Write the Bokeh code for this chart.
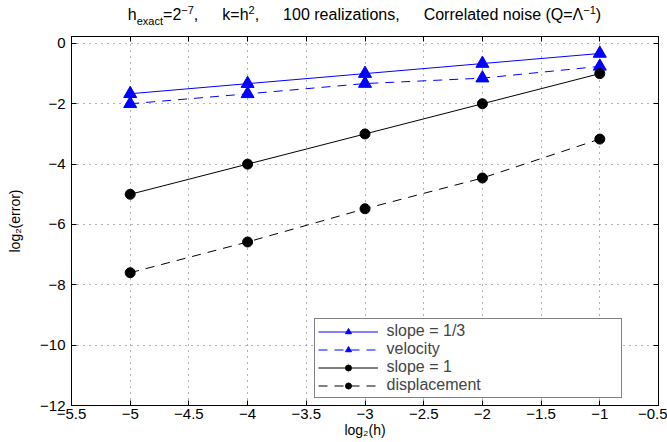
from bokeh.plotting import figure
from bokeh.models import Range1d, FixedTicker, CustomJSTickFormatter, LinearAxis, Div
from bokeh.layouts import column
from bokeh.embed import file_html
from bokeh.resources import INLINE

# ---------------- data ----------------
log2_h = [-5, -4, -3, -2, -1]
slope_13 = [-1.667, -1.333, -1.0, -0.667, -0.333]
velocity = [-2.0, -1.67, -1.33, -1.15, -0.76]
slope_1 = [-5, -4, -3, -2, -1]
displacement = [-7.6, -6.58, -5.48, -4.46, -3.17]

x_ticks = [-5.5, -5, -4.5, -4, -3.5, -3, -2.5, -2, -1.5, -1, -0.5]
y_ticks = [-12, -10, -8, -6, -4, -2, 0]

FONT = "Liberation Sans"
FS = 15

W = 667
DIV_H = 28
H = 442 - DIV_H
ML, MR, MT, MB = 71, 9, 8, 37

p = figure(width=W, height=H, output_backend="svg", toolbar_location=None,
           x_range=Range1d(-5.5, -0.5), y_range=Range1d(-12, 0.23),
           min_border_left=ML, min_border_right=MR, min_border_top=MT,
           min_border_bottom=MB, background_fill_color="white",
           border_fill_color="white")
p.outline_line_color = "black"
p.outline_line_width = 1

minus_fmt = CustomJSTickFormatter(code="""
  var s = Math.abs(tick).toString();
  return tick < 0 ? "\\u2212" + s : s;
""")
blank_fmt = CustomJSTickFormatter(code="return '';")

for ax in p.xaxis + p.yaxis:
    ax.major_tick_in = 5
    ax.major_tick_out = 0
    ax.minor_tick_in = 0
    ax.minor_tick_out = 0
    ax.axis_line_color = "black"
    ax.major_tick_line_color = "black"
    ax.major_label_text_font = FONT
    ax.major_label_text_font_size = f"{FS}px"
    ax.major_label_text_color = "black"
    ax.axis_label_text_font = FONT
    ax.axis_label_text_font_size = "14px"
    ax.axis_label_text_font_style = "normal"
    ax.axis_label_text_color = "black"
    ax.formatter = minus_fmt
p.xaxis.ticker = FixedTicker(ticks=x_ticks)
p.yaxis.ticker = FixedTicker(ticks=y_ticks)
p.xaxis.major_label_standoff = 3
p.xaxis.axis_label = "log\u2082(h)"
p.xaxis.axis_label_standoff = 0
p.yaxis.major_label_standoff = 6
p.yaxis.axis_label = "log\u2082(error)"
p.yaxis.axis_label_standoff = 14

for loc, tk in (("above", x_ticks), ("right", y_ticks)):
    ax = LinearAxis(ticker=FixedTicker(ticks=tk), formatter=blank_fmt,
                    major_tick_in=5, major_tick_out=0, minor_tick_in=0,
                    minor_tick_out=0, major_label_standoff=0,
                    major_label_text_font_size="0px",
                    axis_line_color="black", major_tick_line_color="black")
    p.add_layout(ax, loc)

for g in (p.xgrid[0], p.ygrid[0]):
    g.grid_line_color = "#666666"
    g.grid_line_dash = "1 5"
    g.grid_line_width = 1
p.xgrid.ticker = FixedTicker(ticks=x_ticks)
p.ygrid.ticker = FixedTicker(ticks=y_ticks)

# ---------------- series ----------------
BLUE = "#0000ff"
p.line(log2_h, slope_13, color=BLUE, line_width=1, legend_label="slope = 1/3")
p.scatter(log2_h, slope_13, marker="triangle", size=13, color=BLUE, legend_label="slope = 1/3")
p.line(log2_h, velocity, color=BLUE, line_width=1, line_dash="9 7", legend_label="velocity")
p.scatter(log2_h, velocity, marker="triangle", size=13, color=BLUE, legend_label="velocity")
p.line(log2_h, slope_1, color="black", line_width=1, legend_label="slope = 1")
p.scatter(log2_h, slope_1, marker="circle", size=10, color="black", legend_label="slope = 1")
p.line(log2_h, displacement, color="black", line_width=1, line_dash="9 7", legend_label="displacement")
p.scatter(log2_h, displacement, marker="circle", size=10, color="black", legend_label="displacement")

lg = p.legend[0]
lg.location = (242.5, 7)
lg.padding = 3
lg.spacing = 0
lg.margin = 0
lg.glyph_width = 60
lg.glyph_height = 15
lg.label_height = 15
lg.label_width = 231
lg.label_standoff = 9
lg.label_text_font = FONT
lg.label_text_font_size = "16px"
lg.border_line_color = "black"
lg.border_line_width = 1
lg.background_fill_alpha = 1.0

# ---------------- title (HTML, with sub/superscripts) ----------------
sub = '<span style="font-size:11px;position:relative;top:5px">{}</span>'
sup = '<span style="font-size:11px;position:relative;top:-6px">{}</span>'
gap = '<span style="display:inline-block;width:24px"></span>'
title_parts = [
    "h" + sub.format("exact") + "=2" + sup.format("\u22127") + ",",
    "k=h" + sup.format("2") + ",",
    "100 realizations,",
    "Correlated noise (Q=\u039b" + sup.format("\u22121") + ")",
]
title_html = (
    f'<div style="width:587px;margin-left:71px;text-align:center;'
    f'font-family:\'{FONT}\';font-size:16px;line-height:16px;'
    f'padding-top:7px;white-space:nowrap;color:black">'
    + gap.join(title_parts) + "</div>"
)
title = Div(text=title_html, width=W, height=DIV_H,
            styles={"margin": "0", "padding": "0"})

layout = column(title, p, spacing=0)
open("out.html", "w").write(file_html(layout, INLINE))
